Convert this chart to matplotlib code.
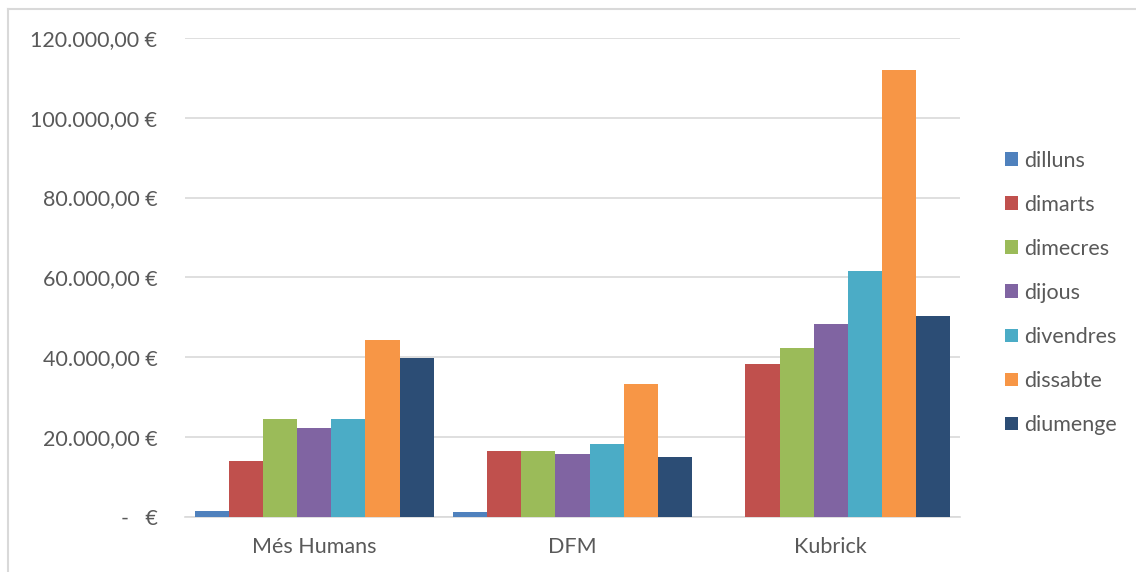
import matplotlib.pyplot as plt
import numpy as np
from matplotlib.lines import Line2D
from matplotlib.ticker import FuncFormatter

plt.rcParams['font.family'] = ['Lato', 'DejaVu Sans']

categories = ['Més Humans', 'DFM', 'Kubrick']
days = ['dilluns', 'dimarts', 'dimecres', 'dijous', 'divendres', 'dissabte', 'diumenge']
dilluns = [1500, 1300, 0]
dimarts = [14000, 16600, 38300]
dimecres = [24500, 16500, 42300]
dijous = [22200, 15800, 48400]
divendres = [24500, 18300, 61500]
dissabte = [44400, 33300, 112000]
diumenge = [39900, 15100, 50300]
series = [dilluns, dimarts, dimecres, dijous, divendres, dissabte, diumenge]
colors = ['#4F81BD', '#C0504D', '#9BBB59', '#8064A2', '#4BACC6', '#F79646', '#2C4D75']
yticks = [0, 20000, 40000, 60000, 80000, 100000, 120000]

text_color = '#595959'
grid_color = '#D9D9D9'


def euro(v, pos):
    if v == 0:
        return '-   €'
    s = f"{v:,.2f}".replace(',', 'X').replace('.', ',').replace('X', '.')
    return s + ' €'


def main():
    fig = plt.figure(figsize=(11.36, 5.72), dpi=100)
    ax = fig.add_axes([0.163, 0.096, 0.682, 0.838])

    x = np.arange(len(categories))
    n = len(series)
    gap = 0.075
    w = (1 - gap) / n
    for i, (vals, c, lab) in enumerate(zip(series, colors, days)):
        offs = -0.5 + gap / 2 + w * (i + 0.5)
        ax.bar(x + offs, vals, width=w, color=c, label=lab, linewidth=0, zorder=3)

    ax.set_xlim(-0.5, len(categories) - 0.5)
    ax.set_ylim(0, 120000)
    ax.set_yticks(yticks)
    ax.yaxis.set_major_formatter(FuncFormatter(euro))
    ax.set_xticks(x)
    ax.set_xticklabels(categories)
    ax.grid(axis='y', color=grid_color, linewidth=1.2, zorder=0)
    ax.tick_params(axis='both', length=0, labelsize=15.5, colors=text_color)
    ax.tick_params(axis='y', pad=20)
    ax.tick_params(axis='x', pad=14)
    for side in ['top', 'right', 'left']:
        ax.spines[side].set_visible(False)
    ax.spines['bottom'].set_color(grid_color)
    ax.spines['bottom'].set_linewidth(1.2)

    fig.legend(loc='center left', bbox_to_anchor=(0.868, 0.488), frameon=False,
               fontsize=15.5, labelcolor=text_color, handlelength=0.6,
               handleheight=0.6, handletextpad=0.25, labelspacing=1.12)

    # outer chart border (left and top only visible)
    fig.add_artist(Line2D([0.007, 0.007], [0.0, 0.984], color=grid_color, linewidth=1.5))
    fig.add_artist(Line2D([0.007, 1.0], [0.984, 0.984], color=grid_color, linewidth=1.5))

    fig.savefig('out.png', dpi=100, facecolor='white')


if __name__ == "__main__":
    main()
